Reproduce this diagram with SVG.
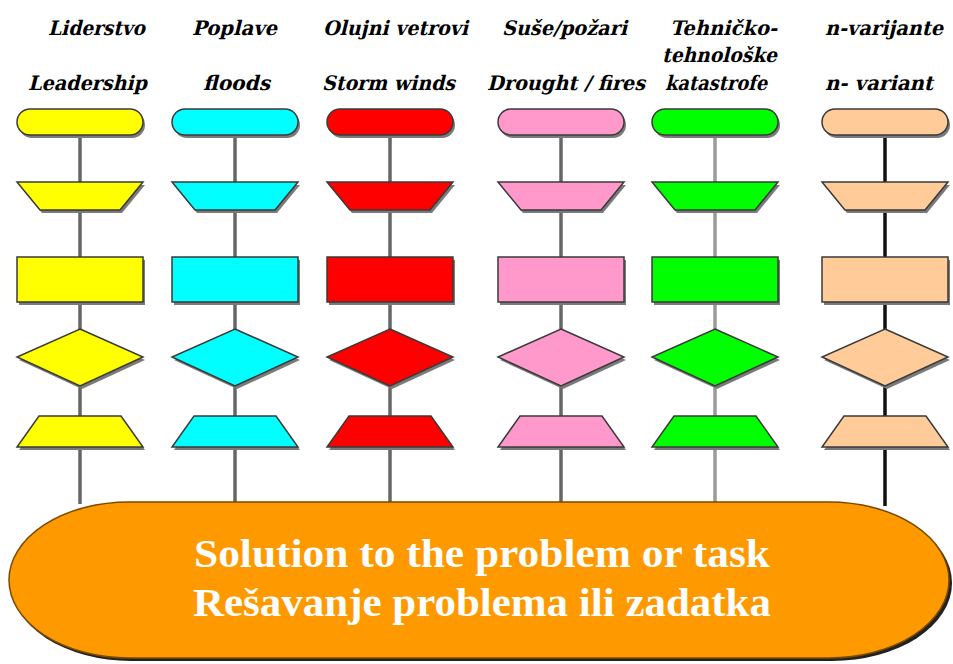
<svg xmlns="http://www.w3.org/2000/svg" xmlns:xlink="http://www.w3.org/1999/xlink" width="953" height="664" viewBox="0 0 953 664">
<style>
.lbl{font-family:"DejaVu Serif","Liberation Serif",serif;font-weight:bold;font-size:20px;fill:#000}
.sol{font-family:"Liberation Serif","Times New Roman",serif;font-weight:bold;font-size:39px;fill:#fff}
.sh{fill:#7a7a7a;stroke:none}
.shp{stroke:#3a3a3a;stroke-width:1.5}
.ln{stroke:#666;stroke-width:3.5;fill:none}
</style>
<defs>
<rect id="term" x="-63" y="109" width="126" height="26" rx="13"/>
<polygon id="trap1" points="-63,182 63,182 40,210 -40,210"/>
<rect id="box" x="-63" y="257" width="126" height="45"/>
<polygon id="dia" points="0,329 63,357 0,386 -63,357"/>
<polygon id="trap2" points="-41,416 41,416 63,447 -63,447"/>
</defs>
<rect width="953" height="664" fill="#fff"/>
<g id="labels">
<text class="lbl" transform="translate(48,35) skewX(-14)" textLength="97" lengthAdjust="spacingAndGlyphs">Liderstvo</text>
<text class="lbl" transform="translate(192,35) skewX(-14)" textLength="85" lengthAdjust="spacingAndGlyphs">Poplave</text>
<text class="lbl" transform="translate(323,35) skewX(-14)" textLength="145" lengthAdjust="spacingAndGlyphs">Olujni vetrovi</text>
<text class="lbl" transform="translate(502,35) skewX(-14)" textLength="125" lengthAdjust="spacingAndGlyphs">Suše/požari</text>
<text class="lbl" transform="translate(670,35) skewX(-14)" textLength="107" lengthAdjust="spacingAndGlyphs">Tehničko-</text>
<text class="lbl" transform="translate(662,62) skewX(-14)" textLength="115" lengthAdjust="spacingAndGlyphs">tehnološke</text>
<text class="lbl" transform="translate(665,90) skewX(-14)" textLength="102" lengthAdjust="spacingAndGlyphs">katastrofe</text>
<text class="lbl" transform="translate(825,35) skewX(-14)" textLength="118" lengthAdjust="spacingAndGlyphs">n-varijante</text>
<text class="lbl" transform="translate(28,90) skewX(-14)" textLength="119" lengthAdjust="spacingAndGlyphs">Leadership</text>
<text class="lbl" transform="translate(203,90) skewX(-14)" textLength="67" lengthAdjust="spacingAndGlyphs">floods</text>
<text class="lbl" transform="translate(322,90) skewX(-14)" textLength="133" lengthAdjust="spacingAndGlyphs">Storm winds</text>
<text class="lbl" transform="translate(487,90) skewX(-14)" textLength="158" lengthAdjust="spacingAndGlyphs">Drought / fires</text>
<text class="lbl" transform="translate(825,90) skewX(-14)" textLength="108" lengthAdjust="spacingAndGlyphs">n- variant</text>
</g>
<g id="connectors">
<line class="ln" x1="80" y1="135" x2="80" y2="504"/>
<line class="ln" x1="235" y1="135" x2="235" y2="502"/>
<line class="ln" x1="390" y1="135" x2="390" y2="502"/>
<line class="ln" x1="561" y1="135" x2="561" y2="502"/>
<line class="ln" x1="715" y1="135" x2="715" y2="502" style="stroke:#9a9a9a"/>
<line class="ln" x1="885" y1="135" x2="885" y2="506" style="stroke:#111"/>
</g>
<g id="col-yellow" transform="translate(80,0)" fill="#FFFF00">
<g id="yellow-1"><use href="#term" class="sh" transform="translate(2,3)"/><use href="#term" class="shp"/></g>
<g id="yellow-2"><use href="#trap1" class="sh" transform="translate(2,3)"/><use href="#trap1" class="shp"/></g>
<g id="yellow-3"><use href="#box" class="sh" transform="translate(2,3)"/><use href="#box" class="shp"/></g>
<g id="yellow-4"><use href="#dia" class="sh" transform="translate(2,3)"/><use href="#dia" class="shp"/></g>
<g id="yellow-5"><use href="#trap2" class="sh" transform="translate(2,3)"/><use href="#trap2" class="shp"/></g>
</g>
<g id="col-cyan" transform="translate(235,0)" fill="#00FFFF">
<g id="cyan-1"><use href="#term" class="sh" transform="translate(2,3)"/><use href="#term" class="shp"/></g>
<g id="cyan-2"><use href="#trap1" class="sh" transform="translate(2,3)"/><use href="#trap1" class="shp"/></g>
<g id="cyan-3"><use href="#box" class="sh" transform="translate(2,3)"/><use href="#box" class="shp"/></g>
<g id="cyan-4"><use href="#dia" class="sh" transform="translate(2,3)"/><use href="#dia" class="shp"/></g>
<g id="cyan-5"><use href="#trap2" class="sh" transform="translate(2,3)"/><use href="#trap2" class="shp"/></g>
</g>
<g id="col-red" transform="translate(390,0)" fill="#FF0000">
<g id="red-1"><use href="#term" class="sh" transform="translate(2,3)"/><use href="#term" class="shp"/></g>
<g id="red-2"><use href="#trap1" class="sh" transform="translate(2,3)"/><use href="#trap1" class="shp"/></g>
<g id="red-3"><use href="#box" class="sh" transform="translate(2,3)"/><use href="#box" class="shp"/></g>
<g id="red-4"><use href="#dia" class="sh" transform="translate(2,3)"/><use href="#dia" class="shp"/></g>
<g id="red-5"><use href="#trap2" class="sh" transform="translate(2,3)"/><use href="#trap2" class="shp"/></g>
</g>
<g id="col-pink" transform="translate(561,0)" fill="#FF99CC">
<g id="pink-1"><use href="#term" class="sh" transform="translate(2,3)"/><use href="#term" class="shp"/></g>
<g id="pink-2"><use href="#trap1" class="sh" transform="translate(2,3)"/><use href="#trap1" class="shp"/></g>
<g id="pink-3"><use href="#box" class="sh" transform="translate(2,3)"/><use href="#box" class="shp"/></g>
<g id="pink-4"><use href="#dia" class="sh" transform="translate(2,3)"/><use href="#dia" class="shp"/></g>
<g id="pink-5"><use href="#trap2" class="sh" transform="translate(2,3)"/><use href="#trap2" class="shp"/></g>
</g>
<g id="col-green" transform="translate(715,0)" fill="#00FF00">
<g id="green-1"><use href="#term" class="sh" transform="translate(2,3)"/><use href="#term" class="shp"/></g>
<g id="green-2"><use href="#trap1" class="sh" transform="translate(2,3)"/><use href="#trap1" class="shp"/></g>
<g id="green-3"><use href="#box" class="sh" transform="translate(2,3)"/><use href="#box" class="shp"/></g>
<g id="green-4"><use href="#dia" class="sh" transform="translate(2,3)"/><use href="#dia" class="shp"/></g>
<g id="green-5"><use href="#trap2" class="sh" transform="translate(2,3)"/><use href="#trap2" class="shp"/></g>
</g>
<g id="col-peach" transform="translate(885,0)" fill="#FFCC99">
<g id="peach-1"><use href="#term" class="sh" transform="translate(2,3)"/><use href="#term" class="shp"/></g>
<g id="peach-2"><use href="#trap1" class="sh" transform="translate(2,3)"/><use href="#trap1" class="shp"/></g>
<g id="peach-3"><use href="#box" class="sh" transform="translate(2,3)"/><use href="#box" class="shp"/></g>
<g id="peach-4"><use href="#dia" class="sh" transform="translate(2,3)"/><use href="#dia" class="shp"/></g>
<g id="peach-5"><use href="#trap2" class="sh" transform="translate(2,3)"/><use href="#trap2" class="shp"/></g>
</g>
<g id="solution">
<rect x="11" y="505" width="941" height="156" rx="120" ry="78" fill="#222"/>
<rect x="9" y="502" width="940" height="156" rx="120" ry="78" fill="#FF9900" stroke="#7a4a00" stroke-width="1.5"/>
<text class="sol" x="482" y="567" text-anchor="middle" textLength="576" lengthAdjust="spacingAndGlyphs">Solution to the problem or task</text>
<text class="sol" x="482" y="616" text-anchor="middle" textLength="578" lengthAdjust="spacingAndGlyphs">Rešavanje problema ili zadatka</text>
</g>
</svg>
